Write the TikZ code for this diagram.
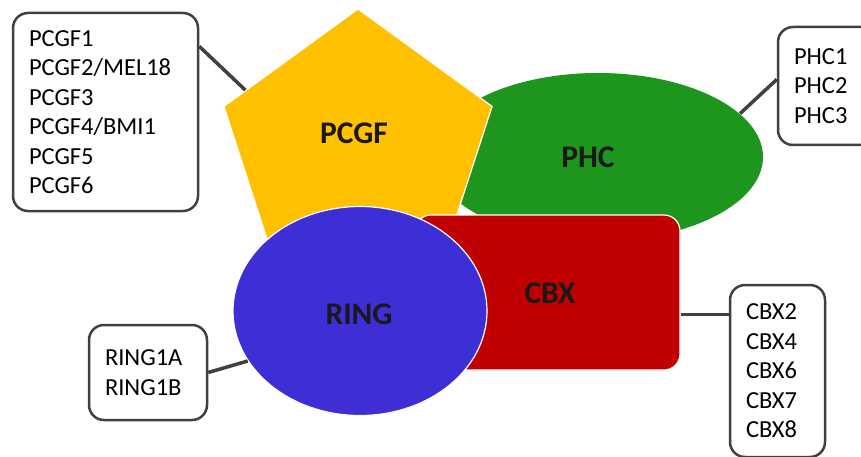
\documentclass[tikz,border=0pt]{standalone}
\usepackage{fontspec}
\setmainfont{Carlito}
\usepackage{tikz}
\usetikzlibrary{shapes.geometric}

\definecolor{pcgfyellow}{RGB}{255,192,0}
\definecolor{phcgreen}{RGB}{30,150,30}
\definecolor{cbxred}{RGB}{192,0,0}
\definecolor{ringblue}{RGB}{62,46,214}
\definecolor{boxgray}{RGB}{64,64,64}

\begin{document}
\begin{tikzpicture}[
    x=1pt, y=-1pt,
    % Styles
    unit/.style={
        draw=white, line width=1.2pt,
        inner sep=0pt
    },
    tag/.style={
        font=\fontsize{31.5}{36}\selectfont\bfseries,
        text=black!90, inner sep=0pt
    },
    listbox/.style={
        rectangle, rounded corners=15pt,
        draw=boxgray, line width=2.5pt, fill=white,
        font=\fontsize{24.5}{29.5}\selectfont, align=left,
        inner xsep=16pt
    },
    link/.style={draw=boxgray, line width=3.5pt}
]
\useasboundingbox (0,0) rectangle (861,457);
\clip (0,0) rectangle (861,457);

% === SUBUNITS (back to front) ===
\node (phc) [unit, ellipse, fill=phcgreen, draw=none, minimum width=330pt, minimum height=168pt] at (598,157) {};
\node (pcgf) [unit, regular polygon, regular polygon sides=5, fill=pcgfyellow, minimum size=282pt] at (358,150) {};
\node (cbx) [unit, rectangle, rounded corners=16pt, fill=cbxred, minimum width=265pt, minimum height=155pt] at (547.5,292.5) {};
\node (ring) [unit, ellipse, fill=ringblue, minimum width=254pt, minimum height=209pt] at (360,311) {};

% === SUBUNIT NAMES ===
\node (pcgftag) [tag] at (354,133) {PCGF};
\node (phctag) [tag] at (588,157) {PHC};
\node (cbxtag) [tag] at (550,293) {CBX};
\node (ringtag) [tag] at (359,314) {RING};

% === PARALOG LISTS ===
\node (pcgflist) [listbox, text width=153pt, minimum height=198pt] at (105.5,112) {PCGF1\\PCGF2/MEL18\\PCGF3\\PCGF4/BMI1\\PCGF5\\PCGF6};
\node (phclist) [listbox, text width=90pt, minimum height=118pt] at (839,86) {PHC1\\PHC2\\PHC3};
\node (ringlist) [listbox, text width=86pt, minimum height=95pt] at (148,372.5) {RING1A\\RING1B};
\node (cbxlist) [listbox, text width=63pt, minimum height=172pt] at (777.5,371) {CBX2\\CBX4\\CBX6\\CBX7\\CBX8};

% === LINKS ===
\draw [link] (pcgflist.35) -- (pcgf.152);
\draw [link] (phclist.174) -- (phc.17);
\draw [link] (ringlist.east) -- (ring.204);
\draw [link] ([yshift=-22pt]cbx.east) -- ([yshift=-22pt]cbx.east -| cbxlist.west);

\end{tikzpicture}
\end{document}
